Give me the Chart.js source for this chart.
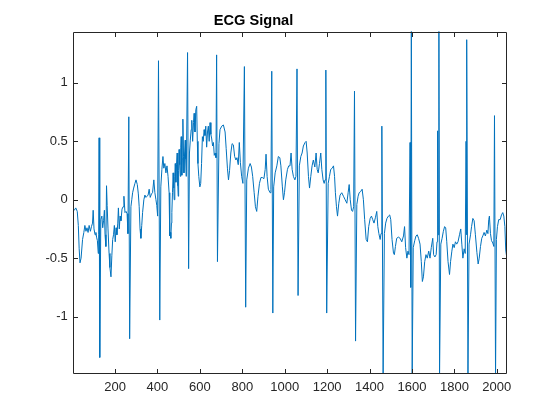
<!DOCTYPE html>
<html>
<head>
<meta charset="utf-8">
<script src="https://cdn.jsdelivr.net/npm/chart.js@4.4.1/dist/chart.umd.min.js"></script>
<style>
  html, body { margin: 0; padding: 0; background: #fff; }
  #wrap { width: 560px; height: 420px; position: relative; }
</style>
</head>
<body>
<div id="wrap"><canvas id="chart-ecg"></canvas></div>
<script>
// ECG Signal (échantillon, amplitude)
const sampleIdx = [
  1, 8, 15, 22, 27, 31, 35, 40, 47, 53, 58, 63, 68, 73, 78, 84, 89, 94, 97, 101, 106, 110, 113, 117, 121, 123, 125, 128,
  133, 138, 142, 146, 150, 153, 157, 160, 163, 167, 172, 176, 181, 185, 189, 193, 197, 201, 205, 209, 213, 216, 220, 224, 228, 233, 238, 242, 247, 252, 257, 261, 265, 269,
  275, 279, 283, 288, 294, 299, 305, 310, 314, 318, 322, 326, 330, 336, 341, 346, 351, 356, 361, 366, 372, 377, 383, 388, 393, 397, 401, 405, 411,
  416, 421, 426, 430, 435, 440, 445, 450, 455, 458, 461, 463, 466, 468, 471, 474, 477, 479, 482, 484, 487, 490, 493, 496, 498, 500, 502, 505, 508, 510, 512, 515, 517, 520, 523, 525, 528, 531, 533, 536, 538, 542, 547,
  551, 555, 559, 562, 566, 570, 573, 577, 581, 585, 588, 591, 595, 600, 604, 608, 612, 616, 620, 624, 628, 632, 636, 640, 644, 648, 652, 656, 660, 664, 668, 672, 676, 679, 683,
  690, 695, 703, 711, 719, 724, 730, 735, 740, 746, 752, 758, 764, 770, 775, 781, 786, 791, 797, 803, 810, 816,
  821, 829, 837, 843, 849, 856, 862, 868, 874, 881, 888, 895, 902, 908, 912, 917, 923, 931, 935, 939, 944,
  948, 955, 963, 970, 977, 982, 989, 994, 999, 1005, 1013, 1019, 1025, 1030, 1035, 1041, 1048, 1053, 1058, 1063,
  1069, 1076, 1082, 1088, 1096, 1101, 1106, 1112, 1117, 1123, 1129, 1135, 1142, 1148, 1153, 1158, 1164, 1170, 1175, 1181, 1186, 1190, 1194, 1198,
  1205, 1211, 1217, 1224, 1230, 1235, 1239, 1244, 1249, 1255, 1261, 1269, 1277, 1285, 1293, 1299, 1304, 1309, 1315, 1320, 1325, 1329, 1334,
  1340, 1346, 1351, 1358, 1365, 1371, 1377, 1384, 1390, 1396, 1403, 1409, 1415, 1421, 1428, 1434, 1439, 1444, 1450, 1454, 1458, 1464,
  1470, 1476, 1482, 1489, 1495, 1500, 1506, 1513, 1517, 1522, 1528, 1536, 1544, 1552, 1560, 1565, 1570, 1576, 1581, 1586, 1591, 1594, 1597, 1601,
  1606, 1613, 1619, 1625, 1631, 1638, 1644, 1649, 1654, 1660, 1666, 1672, 1679, 1685, 1691, 1698, 1702, 1708, 1714, 1718, 1721, 1724, 1727, 1730,
  1736, 1742, 1748, 1754, 1759, 1764, 1770, 1777, 1782, 1788, 1793, 1799, 1805, 1811, 1817, 1824, 1830, 1835, 1840, 1846, 1851, 1855, 1857, 1859, 1864,
  1869, 1876, 1881, 1887, 1893, 1899, 1906, 1912, 1917, 1923, 1929, 1934, 1940, 1946, 1953, 1958, 1962, 1965, 1970, 1975, 1981, 1986, 1989, 1994,
  1998, 2003, 2009, 2016, 2022, 2028, 2033, 2038, 2042, 2045, 2048
];
const ecgValues = [
  -0.10, -0.09, -0.07, -0.10, -0.22, -0.42, -0.54, -0.50, -0.34, -0.28, -0.22, -0.27, -0.24, -0.28, -0.22, -0.27, -0.23, -0.20, -0.09, -0.25, -0.30, -0.28, -0.32, -0.35, -0.46, -0.30, 0.53, -1.35,
  -0.17, -0.14, -0.24, -0.18, -0.09, -0.30, -0.40, 0.12, -0.05, -0.25, -0.46, -0.58, -0.66, -0.48, -0.34, -0.30, -0.22, -0.36, -0.24, -0.30, -0.20, -0.07, -0.25, -0.14, -0.18, -0.08, -0.06, 0.03, -0.11, -0.10, -0.12, -0.29, 0.71, -1.19,
  -0.06, 0.00, 0.06, 0.10, 0.14, 0.17, 0.13, 0.05, -0.06, -0.25, -0.33, -0.22, -0.11, 0.00, 0.04, 0.02, 0.03, 0.04, 0.09, 0.02, 0.05, 0.06, 0.17, 0.06, 0.00, -0.05, -0.14, 1.19, -1.03,
  0.11, 0.26, 0.37, 0.27, 0.31, 0.23, 0.29, 0.20, 0.06, -0.31, -0.28, -0.33, -0.20, -0.11, 0.06, 0.23, 0.10, 0.00, 0.20, 0.31, 0.15, 0.30, 0.40, 0.12, 0.03, 0.25, 0.43, 0.30, 0.20, 0.45, 0.54, 0.21, 0.35, 0.69, 0.37, 0.23, 0.40, 0.51, 0.35, 0.20, 0.20, 1.26, -0.59,
  0.40, 0.51, 0.60, 0.68, 0.50, 0.66, 0.74, 0.58, 0.77, 0.80, 0.50, 0.31, 0.20, 0.11, 0.14, 0.31, 0.54, 0.50, 0.60, 0.55, 0.63, 0.45, 0.58, 0.63, 0.50, 0.66, 0.56, 0.52, 0.46, 0.49, 0.38, 0.40, 0.36, 1.24, -0.53,
  0.48, 0.60, 0.63, 0.64, 0.58, 0.44, 0.27, 0.17, 0.25, 0.40, 0.48, 0.47, 0.37, 0.34, 0.36, 0.30, 0.49, 0.32, 0.20, 0.14, 1.14, -0.92,
  0.17, 0.27, 0.31, 0.28, 0.20, 0.06, -0.06, -0.10, 0.03, 0.14, 0.19, 0.19, 0.18, 0.26, 0.39, 0.20, 0.09, 0.06, 0.09, 1.10, -0.97,
  0.11, 0.23, 0.29, 0.37, 0.36, 0.29, 0.11, 0.00, 0.06, 0.17, 0.26, 0.29, 0.29, 0.40, 0.26, 0.20, 0.17, 0.20, 1.12, -0.82,
  0.29, 0.37, 0.40, 0.46, 0.49, 0.50, 0.40, 0.20, 0.10, 0.20, 0.29, 0.34, 0.28, 0.40, 0.26, 0.23, 0.31, 0.40, 0.26, 0.17, 0.14, 0.17, 1.11, -0.97,
  0.14, 0.20, 0.26, 0.27, 0.29, 0.20, 0.06, -0.06, -0.14, -0.03, 0.04, 0.06, 0.03, 0.00, -0.03, 0.06, 0.13, 0.00, -0.09, -0.10, -0.06, 0.93, -1.21,
  -0.04, 0.03, 0.06, 0.07, 0.09, 0.00, -0.17, -0.34, -0.36, -0.23, -0.16, -0.14, -0.17, -0.20, -0.15, -0.10, -0.23, -0.29, -0.34, -0.29, 0.63, -1.51,
  -0.29, -0.20, -0.16, -0.14, -0.13, -0.17, -0.34, -0.46, -0.47, -0.40, -0.33, -0.32, -0.33, -0.36, -0.31, -0.23, -0.41, -0.50, -0.44, -0.47, 0.49, -0.75, 1.46, -1.51,
  -0.41, -0.35, -0.31, -0.30, -0.33, -0.38, -0.53, -0.70, -0.66, -0.53, -0.47, -0.50, -0.44, -0.50, -0.41, -0.33, -0.47, -0.49, -0.47, -0.36, 0.59, -0.30, 1.46, -1.51,
  -0.38, -0.33, -0.27, -0.23, -0.24, -0.36, -0.53, -0.64, -0.53, -0.44, -0.38, -0.41, -0.36, -0.38, -0.36, -0.30, -0.25, -0.38, -0.50, -0.42, -0.46, 0.50, -0.30, 1.37, -1.51,
  -0.38, -0.30, -0.23, -0.16, -0.18, -0.30, -0.45, -0.55, -0.50, -0.40, -0.33, -0.31, -0.28, -0.31, -0.26, -0.29, -0.17, -0.14, -0.29, -0.35, -0.37, -0.40, 0.72, -1.51,
  -0.34, -0.23, -0.17, -0.17, -0.13, -0.11, -0.14, -0.23, -0.43, -0.47, -0.44
];
const xTickVals = [200, 400, 600, 800, 1000, 1200, 1400, 1600, 1800, 2000];
const yTickVals = [-1, -0.5, 0, 0.5, 1];
const xRange = [1, 2048];
const yRange = [-1.49, 1.44];

const axisColor = '#262626';
const fontFam = 'Arial, "Liberation Sans", Helvetica, sans-serif';

// Cadre + graduations intérieures (style MATLAB)
const boxPlugin = {
  id: 'boxTicks',
  afterDraw(chart) {
    const { ctx, chartArea: a, scales } = chart;
    const L = Math.round(a.left) + 0.5, R = Math.round(a.right) - 0.5;
    const T = Math.round(a.top) + 0.5, B = Math.round(a.bottom) - 0.5;
    const tl = 4.5;
    ctx.save();
    ctx.strokeStyle = axisColor;
    ctx.lineWidth = 1;
    ctx.beginPath();
    ctx.rect(L, T, R - L, B - T);
    xTickVals.forEach(v => {
      const px = Math.round(scales.x.getPixelForValue(v)) + 0.5;
      ctx.moveTo(px, B); ctx.lineTo(px, B - tl);
      ctx.moveTo(px, T); ctx.lineTo(px, T + tl);
    });
    yTickVals.forEach(v => {
      const py = Math.round(scales.y.getPixelForValue(v)) + 0.5;
      ctx.moveTo(L, py); ctx.lineTo(L + tl, py);
      ctx.moveTo(R, py); ctx.lineTo(R - tl, py);
    });
    ctx.stroke();
    ctx.restore();
  }
};

const points = sampleIdx.map((x, i) => ({ x: x, y: ecgValues[i] }));

const ctx = document.getElementById('chart-ecg').getContext('2d');
const ecgChart = new Chart(ctx, {
  type: 'line',
  data: {
    datasets: [{
      label: 'ECG',
      data: points,
      borderColor: '#0072BD',
      borderWidth: 1,
      pointRadius: 0,
      fill: false,
      tension: 0
    }]
  },
  options: {
    responsive: true,
    maintainAspectRatio: false,
    animation: false,
    devicePixelRatio: 1,
    layout: { padding: { left: 0, right: 53, top: 0, bottom: 0 } },
    plugins: {
      legend: { display: false },
      tooltip: { enabled: false },
      title: {
        display: true,
        text: 'ECG Signal',
        color: '#000',
        font: { family: fontFam, size: 14.6, weight: 'bold', lineHeight: 1.2 },
        padding: { top: 12.5, bottom: 1.5 }
      }
    },
    scales: {
      x: {
        type: 'linear',
        min: xRange[0],
        max: xRange[1],
        grid: { display: false, drawTicks: false },
        border: { display: false },
        afterBuildTicks: s => { s.ticks = xTickVals.map(v => ({ value: v })); },
        afterFit: s => { s.height = 46.2; },
        ticks: {
          color: axisColor,
          padding: 6,
          maxRotation: 0,
          autoSkip: false,
          font: { family: fontFam, size: 13 },
          callback: v => String(v)
        }
      },
      y: {
        type: 'linear',
        min: yRange[0],
        max: yRange[1],
        grid: { display: false, drawTicks: false },
        border: { display: false },
        afterBuildTicks: s => { s.ticks = yTickVals.map(v => ({ value: v })); },
        afterFit: s => { s.width = 72.8; },
        ticks: {
          color: axisColor,
          padding: 5,
          autoSkip: false,
          font: { family: fontFam, size: 13 },
          callback: v => String(v)
        }
      }
    }
  },
  plugins: [boxPlugin]
});
</script>
</body>
</html>
